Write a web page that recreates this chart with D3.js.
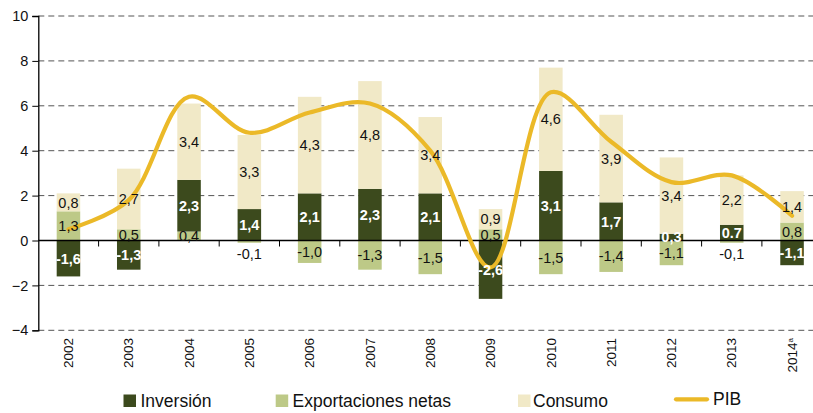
<!DOCTYPE html>
<html>
<head>
<meta charset="utf-8">
<script src="https://cdn.jsdelivr.net/npm/d3@7"></script>
<style>
  body { margin: 0; background: #fff; }
  text { font-family: "Liberation Sans", Arial, sans-serif; }
</style>
</head>
<body>
<script>
// data (percentage points)
const years = ['2002', '2003', '2004', '2005', '2006', '2007', '2008', '2009', '2010', '2011', '2012', '2013', '2014'];
const inversion = [-1.6, -1.3, 2.3, 1.4, 2.1, 2.3, 2.1, -2.6, 3.1, 1.7, 0.3, 0.7, -1.1];
const exportaciones = [1.3, 0.5, 0.4, -0.1, -1.0, -1.3, -1.5, 0.5, -1.5, -1.4, -1.1, -0.1, 0.8];
const consumo = [0.8, 2.7, 3.4, 3.3, 4.3, 4.8, 3.4, 0.9, 4.6, 3.9, 3.4, 2.2, 1.4];
const pib = [0.5, 1.8, 6.4, 4.8, 5.7, 6.1, 4.0, -1.2, 6.6, 4.4, 2.6, 2.9, 1.1];
const yTicks = [-4, -2, 0, 2, 4, 6, 8, 10];

const colors = {inv: '#3c4a1d', exp: '#bdc987', con: '#f1e9c7', pib: '#ebb928'};

const width = 813, height = 413;

let svg = d3.select('body').append('svg')
    .attr('width', width)
    .attr('height', height);

// plot runs a little past the right edge, like the original
let x = d3.scaleBand()
    .domain(years)
    .range([38.3, 822.2])
    .paddingInner(0.61)
    .paddingOuter(0.305);

let y = d3.scaleLinear()
    .domain([-4, 10])
    .range([330.3, 16]);

// grid
svg.append('g')
    .selectAll('line')
    .data(yTicks.filter(d => d !== 0))
    .enter()
    .append('line')
    .attr('x1', 38.3)
    .attr('x2', 822)
    .attr('y1', d => y(d))
    .attr('y2', d => y(d))
    .attr('stroke', '#555')
    .attr('stroke-width', 1)
    .attr('stroke-dasharray', '6,4');

// stacked bars
const rows = years.map((yr, i) => ({year: yr, exp: exportaciones[i], inv: inversion[i], con: consumo[i]}));
const stack = d3.stack()
    .keys(['exp', 'inv', 'con'])
    .offset(d3.stackOffsetDiverging);
const series = stack(rows);

let gBars = svg.append('g');
series.forEach(s => {
  gBars.selectAll('rect.' + s.key)
      .data(s)
      .enter()
      .append('rect')
      .attr('class', s.key)
      .attr('x', d => x(d.data.year))
      .attr('width', x.bandwidth())
      .attr('y', d => y(Math.max(d[0], d[1])))
      .attr('height', d => Math.abs(y(d[0]) - y(d[1])))
      .attr('fill', colors[s.key]);
});

// y axis
let yAxis = d3.axisLeft(y)
    .tickValues(yTicks)
    .tickSize(6)
    .tickPadding(4)
    .tickFormat(d3.format('d'));

svg.append('g')
    .attr('transform', 'translate(38.3,0)')
    .call(yAxis)
    .call(g => {
      g.select('.domain').attr('stroke', '#000').attr('stroke-width', 1.3);
      g.selectAll('.tick line').attr('stroke', '#000');
      g.selectAll('.tick text')
          .attr('font-size', 14.5)
          .attr('fill', '#111')
          .attr('font-family', '"Liberation Sans", Arial, sans-serif');
    });

// zero line with ticks between categories
let xTickPos = years.map(yr => x(yr) - x.step() * x.paddingInner() / 2).slice(1);
svg.append('line')
    .attr('x1', 38.3)
    .attr('x2', 822)
    .attr('y1', y(0))
    .attr('y2', y(0))
    .attr('stroke', '#000')
    .attr('stroke-width', 1.3);

svg.append('g')
    .selectAll('line')
    .data(xTickPos)
    .enter()
    .append('line')
    .attr('x1', d => d)
    .attr('x2', d => d)
    .attr('y1', y(0))
    .attr('y2', y(0) + 6)
    .attr('stroke', '#000');

// PIB line
let line = d3.line()
    .x((d, i) => x(years[i]) + x.bandwidth() / 2)
    .y(d => y(d))
    .curve(d3.curveCatmullRom.alpha(0.5));

svg.append('path')
    .datum(pib)
    .attr('d', line)
    .attr('fill', 'none')
    .attr('stroke', colors.pib)
    .attr('stroke-width', 4.2)
    .attr('stroke-linecap', 'round');

// value labels
const fmt = v => d3.format('.1f')(v).replace('.', ',').replace('−', '-');
let gLabels = svg.append('g');
series.forEach(s => {
  gLabels.selectAll('text.' + s.key)
      .data(s)
      .enter()
      .append('text')
      .attr('class', s.key)
      .attr('x', d => x(d.data.year) + x.bandwidth() / 2)
      .attr('y', d => {
        const y0 = y(d[0]), y1 = y(d[1]);
        const h = Math.abs(y0 - y1);
        const v = d.data[s.key];
        if (h < 5 && v < 0) return Math.max(y0, y1) + 11;
        return (y0 + y1) / 2;
      })
      .attr('dy', '0.36em')
      .attr('text-anchor', 'middle')
      .attr('font-size', 14.5)
      .attr('font-weight', s.key === 'inv' ? 'bold' : 'normal')
      .attr('fill', s.key === 'inv' ? '#fff' : '#111')
      .text(d => {
        const t = fmt(d.data[s.key]);
        // the original prints this one with a point
        return (s.key === 'inv' && d.data.year === '2013') ? t.replace(',', '.') : t;
      });
});

// category labels, rotated
let xl = svg.append('g')
    .selectAll('text')
    .data(years)
    .enter()
    .append('text')
    .attr('transform', d => 'translate(' + (x(d) + x.bandwidth() / 2) + ',338) rotate(-90)')
    .attr('text-anchor', 'end')
    .attr('dy', '0.35em')
    .attr('font-size', 13.5)
    .attr('fill', '#111')
    .text(d => d);
xl.filter(d => d === '2014')
    .append('tspan')
    .attr('font-size', 8)
    .attr('baseline-shift', 'super')
    .text('a');

// legend
const legend = [
  {name: 'Inversión', key: 'inv', x: 123.5, tx: 140.5},
  {name: 'Exportaciones netas', key: 'exp', x: 275.7, tx: 292.5},
  {name: 'Consumo', key: 'con', x: 518, tx: 533}
];
let gLeg = svg.append('g');
legend.forEach(l => {
  gLeg.append('rect')
      .attr('x', l.x)
      .attr('y', 394.5)
      .attr('width', 12.5)
      .attr('height', 12.5)
      .attr('fill', colors[l.key]);
  gLeg.append('text')
      .attr('x', l.tx)
      .attr('y', 406.5)
      .attr('font-size', 17.5)
      .attr('fill', '#111')
      .text(l.name);
});
gLeg.append('line')
    .attr('x1', 676)
    .attr('x2', 707)
    .attr('y1', 399.3)
    .attr('y2', 399.3)
    .attr('stroke', colors.pib)
    .attr('stroke-width', 4.2)
    .attr('stroke-linecap', 'round');
gLeg.append('text')
    .attr('x', 713)
    .attr('y', 405)
    .attr('font-size', 17.5)
    .attr('fill', '#111')
    .text('PIB');
</script>
</body>
</html>
